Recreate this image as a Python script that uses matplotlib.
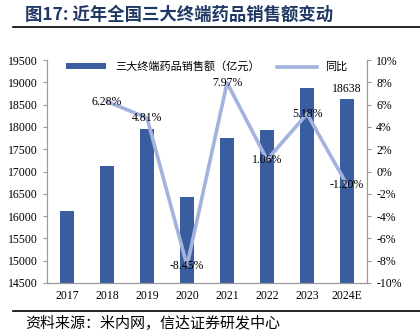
import matplotlib.pyplot as plt
import matplotlib.lines as mlines
from matplotlib.ticker import FuncFormatter

plt.rcParams['font.family'] = ['Liberation Serif', 'Noto Sans CJK SC', 'DejaVu Sans']

years = ['2017', '2018', '2019', '2020', '2021', '2022', '2023', '2024E']
sales = [16118, 17131, 17955, 16437, 17747, 17936, 18865, 18638]
yoy = [None, 6.28, 4.81, -8.45, 7.97, 1.06, 5.18, -1.20]

bar_color = '#3A5DA0'
line_color = '#A3B3DD'

fig = plt.figure(figsize=(4.2, 3.36), dpi=100)
ax = fig.add_axes([0.112, 0.158, 0.762, 0.663])
x = list(range(len(years)))
ax.bar(x, sales, width=0.33, color=bar_color, zorder=2, label='三大终端药品销售额（亿元）')
ax.set_ylim(14500, 19500)
ax.set_yticks(range(14500, 19501, 500))
ax.set_xlim(-0.5, 7.5)
ax.set_xticks(x)
ax.set_xticklabels(years)
ax.text(x[-1], sales[-1] + 90, f'{sales[-1]}', ha='center', va='bottom', fontsize=8.5)

ax2 = ax.twinx()
lx = [i for i, v in zip(x, yoy) if v is not None]
ly = [v for v in yoy if v is not None]
ax2.plot(lx, ly, color=line_color, lw=2.6, zorder=3, label='同比')
for i, v in zip(lx, ly):
    ax2.text(i, v, f'{v:.2f}%', ha='center', va='center', fontsize=8.5, zorder=4)
ax2.set_ylim(-10, 10)
ax2.set_yticks(range(-10, 11, 2))
ax2.yaxis.set_major_formatter(FuncFormatter(lambda v, p: f'{v:.0f}%'))

for a in (ax, ax2):
    a.spines['top'].set_visible(False)
    for s in ('left', 'right', 'bottom'):
        a.spines[s].set_color('#999999')
        a.spines[s].set_linewidth(0.8)
    a.tick_params(labelsize=8.5, color='#999999', length=3, width=0.8)
ax.tick_params(axis='x', length=0, pad=5)

h1, l1 = ax.get_legend_handles_labels()
h2, l2 = ax2.get_legend_handles_labels()
leg = ax.legend(h1 + h2, l1 + l2, loc='upper center', bbox_to_anchor=(0.5, 1.04), ncol=2,
                frameon=False, handlelength=3.6, handleheight=0.45,
                columnspacing=1.5, prop={'family': ['Noto Sans CJK SC'], 'size': 8})

# 标题与来源
fig.text(0.06, 0.957, '图17: 近年全国三大终端药品销售额变动', fontsize=12.5, fontweight='bold',
         color='#1F3864', family=['Noto Sans CJK SC'], va='center')
fig.add_artist(mlines.Line2D([0.03, 1.0], [0.921, 0.921], color='black', lw=1.2))
fig.add_artist(mlines.Line2D([0.03, 1.0], [0.074, 0.074], color='black', lw=1.2))
fig.text(0.06, 0.037, '资料来源：米内网，信达证券研发中心', fontsize=10.8, style='italic',
         family=['Noto Sans CJK SC'], va='center')

fig.savefig('out.png', dpi=100)
